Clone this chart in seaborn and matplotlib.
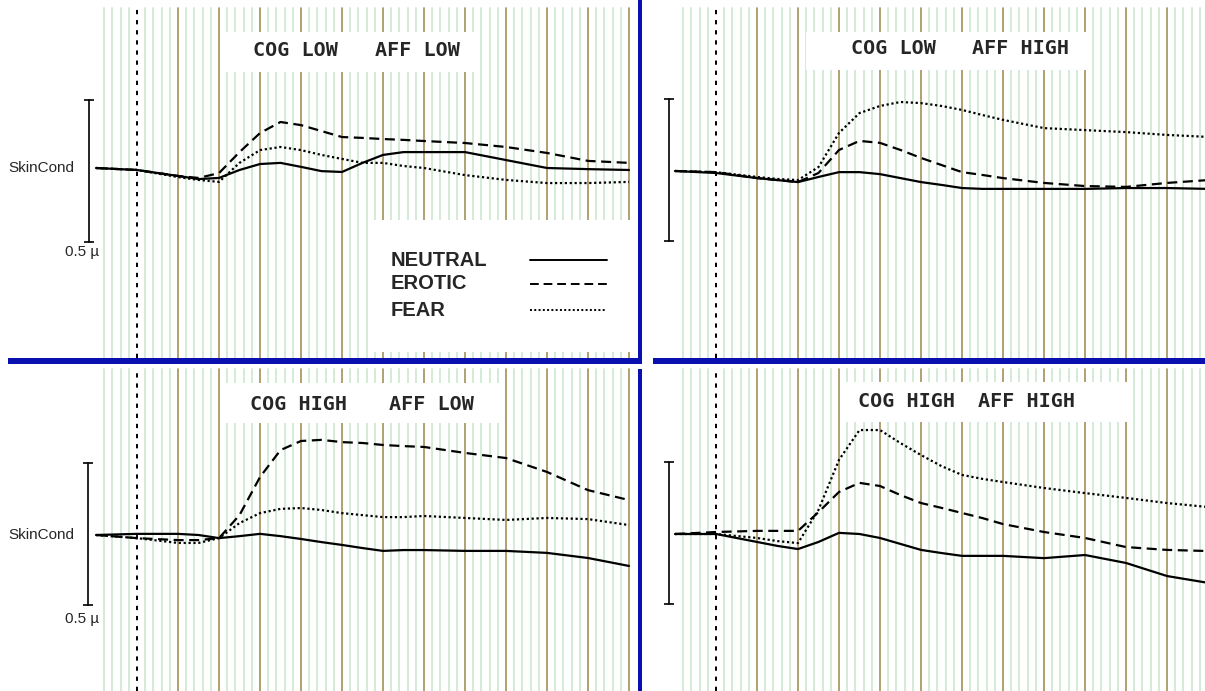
import numpy as np
import pandas as pd
import seaborn as sns
import matplotlib.pyplot as plt
from matplotlib.patches import Rectangle
from matplotlib.lines import Line2D

# time after stimulus onset (s)
time_s = [-1, 0, 1, 1.5, 2, 2.5, 3, 3.5, 4, 4.5, 5, 5.5, 6, 6.5, 7, 8, 9, 10, 11, 12]

# skin conductance change from baseline (microsiemens)
cogl_affl_neutral = [0, -0.007, -0.028, -0.039, -0.035, -0.007, 0.014, 0.018, 0.004, -0.011,
                     -0.014, 0.018, 0.046, 0.056, 0.056, 0.056, 0.028, 0.0, -0.004, -0.007]
cogl_affl_erotic = [0, -0.007, -0.028, -0.035, -0.018, 0.056, 0.123, 0.162, 0.151, 0.130,
                    0.109, 0.106, 0.102, 0.099, 0.095, 0.088, 0.074, 0.053, 0.025, 0.018]
cogl_affl_fear = [0, -0.007, -0.032, -0.042, -0.049, 0.018, 0.063, 0.074, 0.063, 0.046,
                  0.032, 0.018, 0.018, 0.007, 0.0, -0.025, -0.042, -0.053, -0.053, -0.049]

cogl_affh_neutral = [0, -0.007, -0.025, -0.032, -0.039, -0.021, -0.004, -0.004, -0.011, -0.025,
                     -0.039, -0.049, -0.060, -0.063, -0.063, -0.063, -0.063, -0.060, -0.060, -0.063]
cogl_affh_erotic = [0, -0.004, -0.025, -0.032, -0.039, -0.007, 0.074, 0.106, 0.099, 0.074,
                    0.046, 0.021, -0.004, -0.014, -0.025, -0.042, -0.053, -0.056, -0.042, -0.032]
cogl_affh_fear = [0, -0.004, -0.021, -0.028, -0.032, 0.014, 0.134, 0.204, 0.229, 0.243,
                  0.239, 0.229, 0.215, 0.197, 0.180, 0.151, 0.144, 0.137, 0.127, 0.120]

cogh_affl_neutral = [0, 0.004, 0.004, 0.0, -0.011, -0.004, 0.004, -0.004, -0.014, -0.025,
                     -0.035, -0.046, -0.056, -0.053, -0.053, -0.056, -0.056, -0.063, -0.081, -0.109]
cogh_affl_erotic = [0, -0.011, -0.018, -0.018, -0.011, 0.070, 0.204, 0.299, 0.331, 0.335,
                    0.327, 0.324, 0.317, 0.313, 0.310, 0.289, 0.271, 0.222, 0.158, 0.123]
cogh_affl_fear = [0, -0.011, -0.028, -0.028, -0.011, 0.042, 0.077, 0.092, 0.095, 0.088,
                  0.077, 0.070, 0.063, 0.063, 0.067, 0.060, 0.053, 0.060, 0.056, 0.035]

cogh_affh_neutral = [0, 0.0, -0.028, -0.042, -0.053, -0.028, 0.004, 0.0, -0.014, -0.035,
                     -0.056, -0.067, -0.077, -0.077, -0.077, -0.085, -0.074, -0.102, -0.148, -0.172]
cogh_affh_erotic = [0, 0.007, 0.011, 0.011, 0.011, 0.077, 0.148, 0.180, 0.169, 0.137,
                    0.109, 0.092, 0.074, 0.056, 0.035, 0.007, -0.014, -0.046, -0.056, -0.060]
cogh_affh_fear = [0, 0.0, -0.014, -0.025, -0.032, 0.085, 0.261, 0.366, 0.366, 0.320,
                  0.278, 0.239, 0.208, 0.194, 0.183, 0.162, 0.144, 0.127, 0.109, 0.095]

conditions = ['NEUTRAL', 'EROTIC', 'FEAR']
panel_titles = [('COG LOW', 'AFF LOW'), ('COG LOW', 'AFF HIGH'),
                ('COG HIGH', 'AFF LOW'), ('COG HIGH', 'AFF HIGH')]
panel_series = [
    (cogl_affl_neutral, cogl_affl_erotic, cogl_affl_fear),
    (cogl_affh_neutral, cogl_affh_erotic, cogl_affh_fear),
    (cogh_affl_neutral, cogh_affl_erotic, cogh_affl_fear),
    (cogh_affh_neutral, cogh_affh_erotic, cogh_affh_fear),
]

# layout in pixels of the 1205x691 image
W, H = 1205, 691
PX_PER_SEC = 41
PX_PER_US = 284
layout = [
    # rect, onset x, baseline y, grid y range, scale bar x/top, title box, title centres, y
    dict(rect=(0, 0, 638, 358), t0=137, base=168, grid=(8, 358), bar=(89, 0.24),
         box=(223, 32, 478, 72), tx=(295, 417), ty=50, skin=True),
    dict(rect=(643, 0, 1205, 358), t0=716, base=171, grid=(8, 358), bar=(669, 0.255),
         box=(806, 32, 1090, 70), tx=(893, 1021), ty=48, skin=False),
    dict(rect=(0, 364, 638, 691), t0=137, base=535, grid=(369, 691), bar=(88, 0.254),
         box=(224, 383, 504, 423), tx=(299, 431), ty=405, skin=True),
    dict(rect=(643, 364, 1205, 691), t0=716, base=534, grid=(369, 691), bar=(669, 0.254),
         box=(845, 382, 1130, 422), tx=(907, 1027), ty=402, skin=False),
]

dash_map = {'NEUTRAL': '', 'EROTIC': (4.5, 2.5), 'FEAR': (1, 1.2)}
GREEN = '#d3ecd6'
OLIVE = '#a09258'
NAVY = '#0a0fb0'


def fig_box(x0, y0, x1, y1):
    return [x0 / W, 1 - y1 / H, (x1 - x0) / W, (y1 - y0) / H]


def fx(px):
    return px / W


def fy(py):
    return 1 - py / H


sns.set_style('white')
plt.rcParams['font.family'] = ['Liberation Sans', 'DejaVu Sans']

fig = plt.figure(figsize=(W / 100, H / 100), dpi=100)

for series, titles, p in zip(panel_series, panel_titles, layout):
    x0, y0, x1, y1 = p['rect']
    ax = fig.add_axes(fig_box(x0, y0, x1, y1))
    ax.set_xlim((x0 - p['t0']) / PX_PER_SEC, (x1 - p['t0']) / PX_PER_SEC)
    ax.set_ylim((p['base'] - y1) / PX_PER_US, (p['base'] - y0) / PX_PER_US)
    ax.axis('off')

    # vertical time grid: pale every 0.2 s, olive every second, dotted at onset
    gmin = (y1 - p['grid'][1]) / (y1 - y0)
    gmax = (y1 - p['grid'][0]) / (y1 - y0)
    for k in range(-4, 61):
        t = k * 0.2
        if k == 0:
            ax.axvline(t, ymin=gmin, ymax=gmax, color='black', lw=1.4, dashes=(2.2, 3), zorder=3)
        elif k % 5 == 0:
            ax.axvline(t, ymin=gmin, ymax=gmax, color=OLIVE, lw=1.2, zorder=1)
        else:
            ax.axvline(t, ymin=gmin, ymax=gmax, color=GREEN, lw=1.4, zorder=1)

    df = pd.DataFrame({
        't': time_s * 3,
        'uS': list(series[0]) + list(series[1]) + list(series[2]),
        'cond': [c for c in conditions for _ in time_s],
    })
    sns.lineplot(data=df, x='t', y='uS', style='cond', style_order=conditions,
                 dashes=dash_map, color='black', lw=1.6, legend=False, ax=ax, zorder=5)

    # 0.5 microsiemens scale bar
    bx = (p['bar'][0] - p['t0']) / PX_PER_SEC
    top = p['bar'][1]
    ax.plot([bx, bx], [top, top - 0.5], color='black', lw=1.2, marker='_', ms=7, mew=1.2)

    # white title box
    bx0, by0, bx1, by1 = p['box']
    fig.add_artist(Rectangle((fx(bx0), fy(by1)), (bx1 - bx0) / W, (by1 - by0) / H,
                             transform=fig.transFigure, fc='white', ec='none', zorder=2))
    for cx, s in zip(p['tx'], titles):
        fig.text(fx(cx), fy(p['ty']), s, ha='center', va='center', fontsize=14.5,
                 family='DejaVu Sans Mono', fontweight='bold', zorder=4)

    if p['skin']:
        fig.text(fx(8), fy(p['base']), 'SkinCond', ha='left', va='center', fontsize=11)
        fig.text(fx(65), fy(p['base'] + 84), '0.5 µ', ha='left', va='center', fontsize=11)

# legend box in the first panel
fig.add_artist(Rectangle((fx(368), fy(352)), 264 / W, 132 / H,
                         transform=fig.transFigure, fc='white', ec='none', zorder=2))
for c, ly in zip(conditions, [260, 284, 310]):
    fig.text(fx(391), fy(ly), c, ha='left', va='center', fontsize=14.5,
             fontweight='bold', zorder=4)
    ls = dict(linestyle='-') if dash_map[c] == '' else dict(dashes=dash_map[c])
    fig.add_artist(Line2D([fx(530), fx(607)], [fy(ly), fy(ly)], transform=fig.transFigure,
                          color='black', lw=1.4, zorder=4, **ls))

# navy panel separators
for rx0, ry0, rx1, ry1 in [(8, 358, 642, 364), (653, 358, 1205, 364),
                           (638, 0, 642, 364), (638, 369, 642, 691)]:
    fig.add_artist(Rectangle((fx(rx0), fy(ry1)), (rx1 - rx0) / W, (ry1 - ry0) / H,
                             transform=fig.transFigure, fc=NAVY, ec='none', zorder=6))

fig.savefig('out.png', dpi=100)
